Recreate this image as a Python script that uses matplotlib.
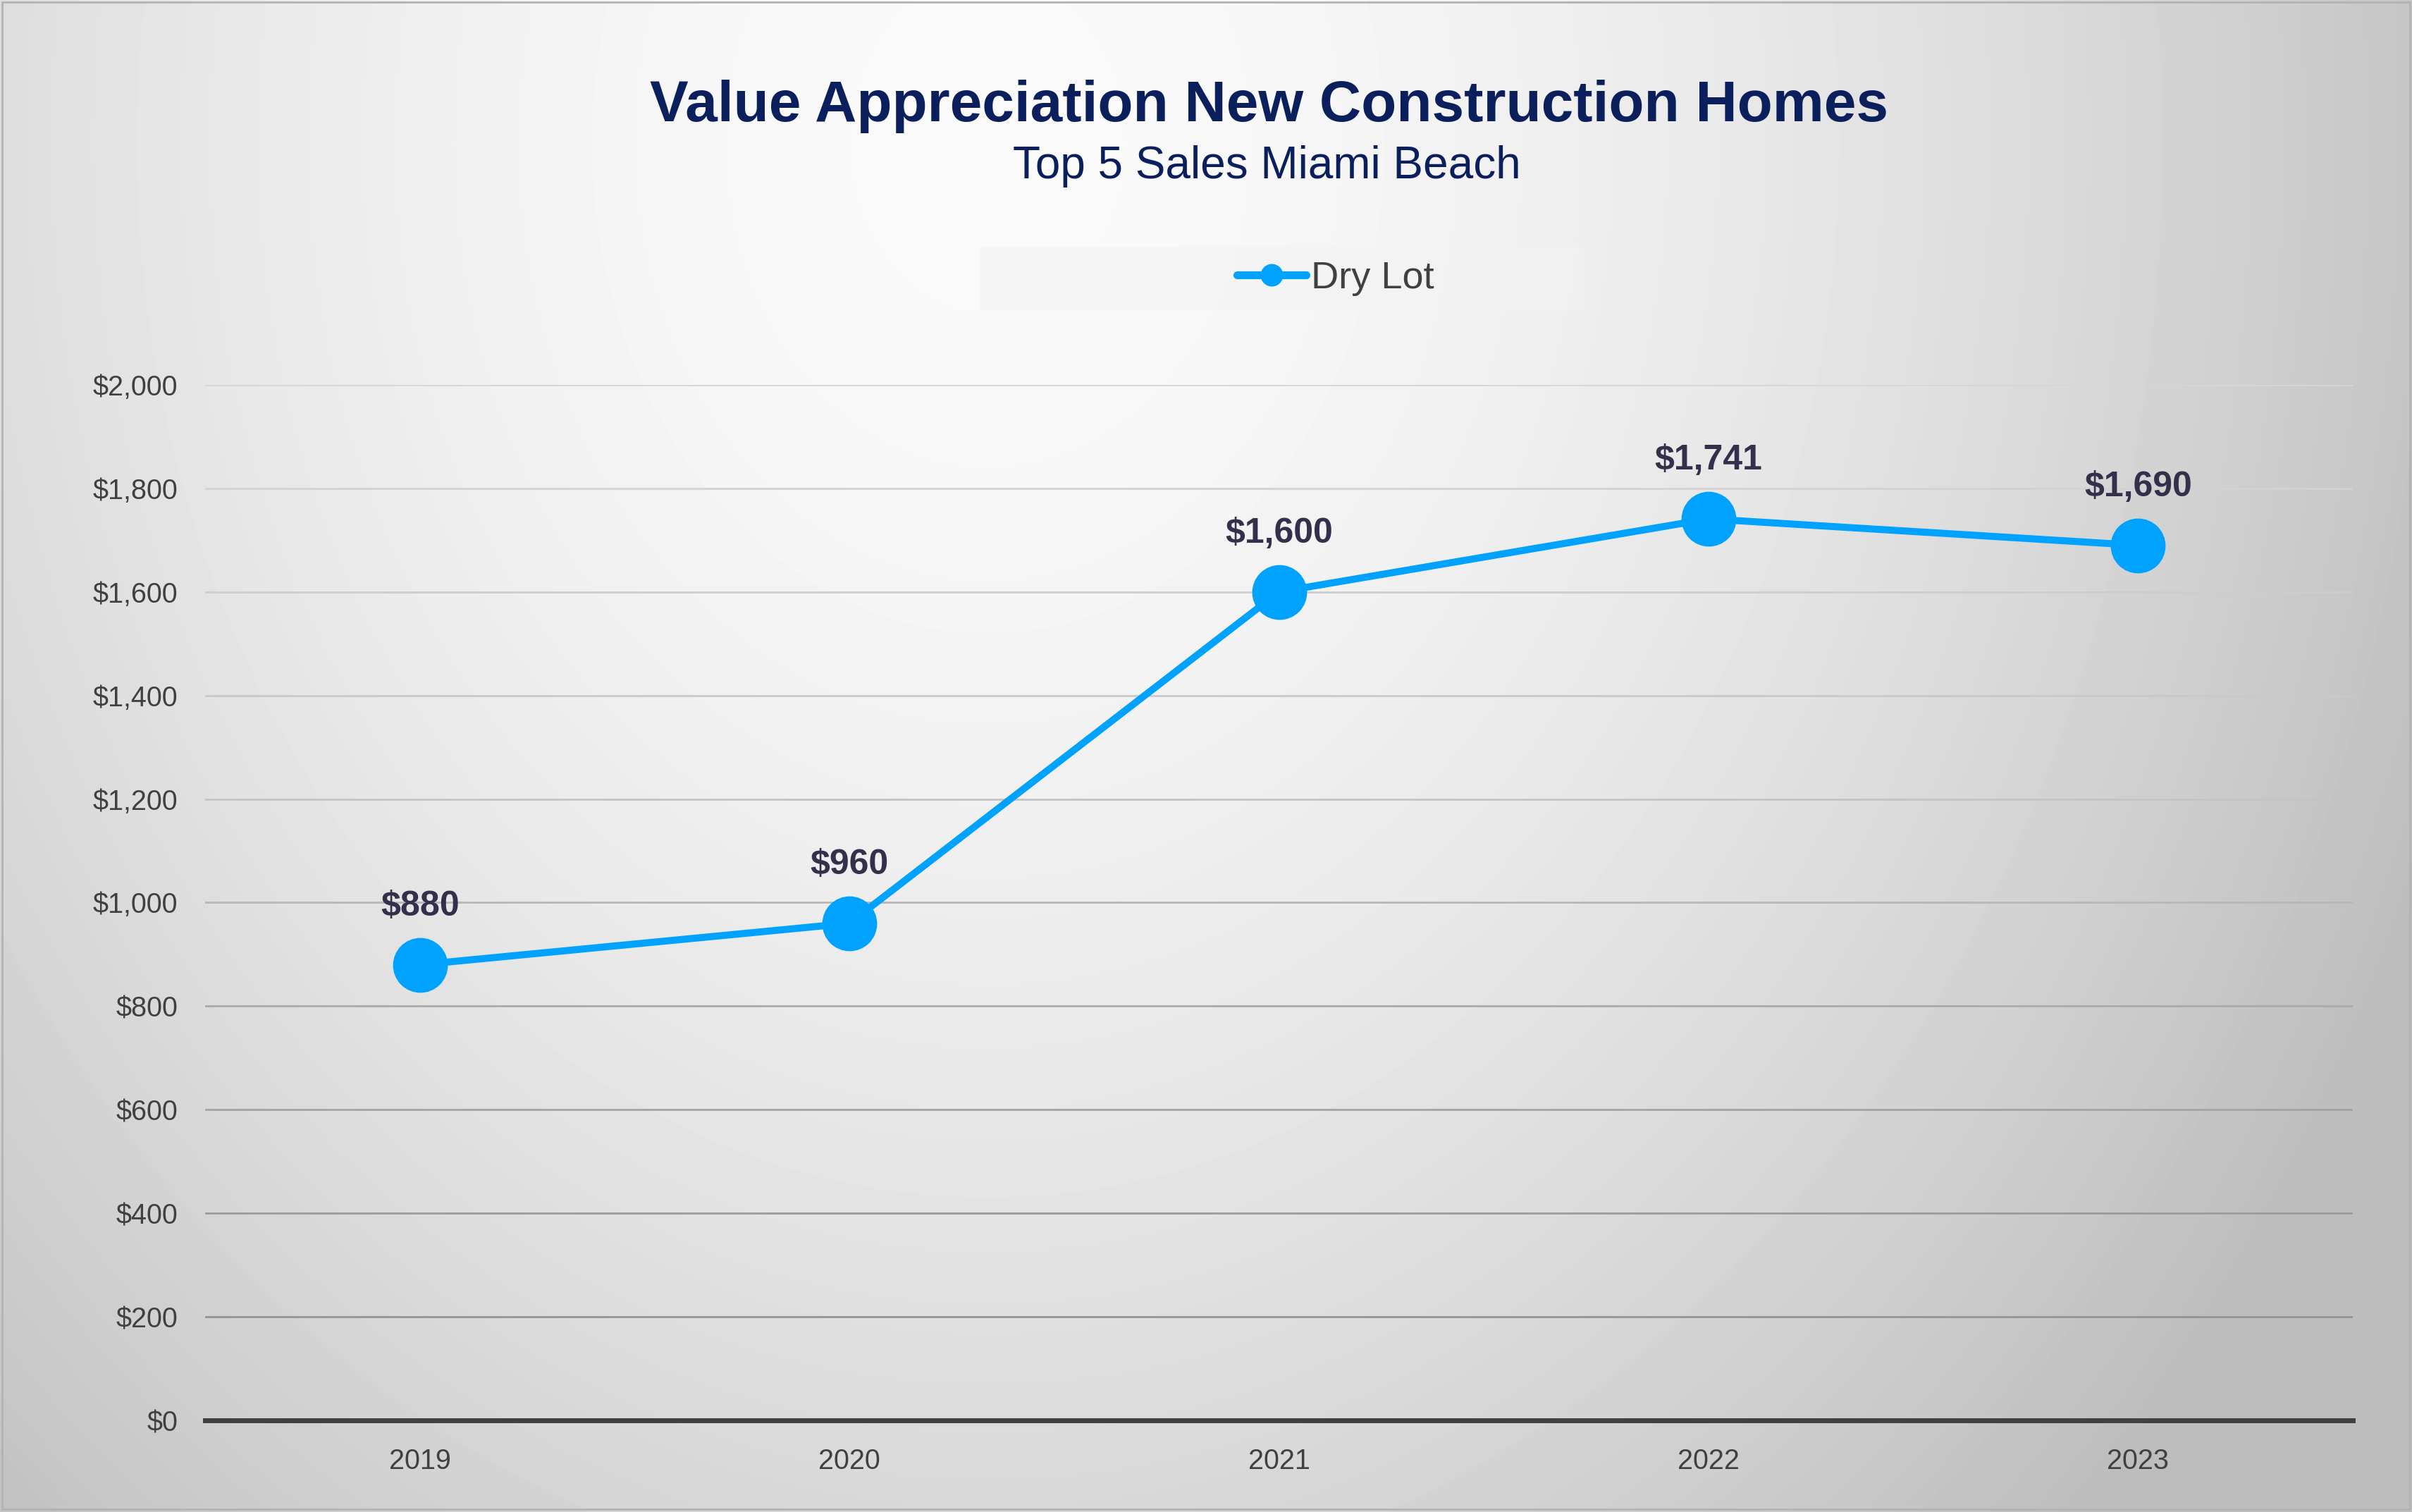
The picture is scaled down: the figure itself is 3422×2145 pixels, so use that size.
import numpy as np
import matplotlib
matplotlib.use('Agg')
import matplotlib.pyplot as plt
from matplotlib.lines import Line2D
from matplotlib.patches import Rectangle
from matplotlib.ticker import FuncFormatter

# ---- data ----
years = ['2019', '2020', '2021', '2022', '2023']
dry_lot = [880, 960, 1600, 1741, 1690]
series_name = 'Dry Lot'
y_ticks = [0, 200, 400, 600, 800, 1000, 1200, 1400, 1600, 1800, 2000]
title = 'Value Appreciation New Construction Homes'
subtitle = 'Top 5 Sales Miami Beach'

plt.rcParams['font.family'] = ['Liberation Sans', 'DejaVu Sans']

W, H = 3423, 2145
fig = plt.figure(figsize=(W / 100, H / 100), dpi=100)

# ---- background gradient ----
bg = fig.add_axes([0, 0, 1, 1], zorder=-10)
yy, xx = np.mgrid[0:H:5, 0:W:5].astype(float)
cx, cy, a, b = 1400.0, 200.0, 2100.0, 2600.0
r = np.sqrt(((xx - cx) / a) ** 2 + ((yy - cy) / b) ** 2)
val = (250 - 56 * np.clip(r, 0, 1.05) ** 1.7) / 255.0
bg.imshow(val, cmap='gray', vmin=0, vmax=1, extent=[0, W, H, 0],
          aspect='auto', interpolation='bilinear')
bg.set_xlim(0, W)
bg.set_ylim(H, 0)
bg.axis('off')
bg.add_patch(Rectangle((3, 3), W - 7, H - 7, fill=False,
                       edgecolor='#b3b3b3', linewidth=2))
# faint legend box
bg.add_patch(Rectangle((1390, 350), 859, 90, facecolor='#f3f3f3',
                       edgecolor='none', alpha=0.6))

# ---- main axes ----
ax = fig.add_axes([0.0850, 0.0606, 0.8902, 0.6849])
ax.patch.set_alpha(0)
x = np.arange(len(years))
ax.set_xlim(-0.5, len(years) - 0.5)
ax.set_ylim(0, 2000)

for v in y_ticks[1:]:
    g = np.interp(v, [200, 800, 1200, 2000], [148, 170, 196, 214]) / 255.0
    ax.axhline(v, color=(g, g, g), lw=2, zorder=1)
ax.axhline(0, color='#404040', lw=5, zorder=3, clip_on=False)

ax.plot(x, dry_lot, color='#00a2ff', lw=7.2, marker='o', ms=55,
        solid_capstyle='round', zorder=5, clip_on=False)

for xi, v in zip(x, dry_lot):
    ax.annotate(f'${v:,}', (xi, v), xytext=(0, 50.4), textcoords='offset points',
                ha='center', va='baseline', fontsize=36, fontweight='bold',
                color='#34304b', zorder=6)

ax.set_yticks(y_ticks)
ax.yaxis.set_major_formatter(FuncFormatter(lambda v, p: f'${v:,.0f}'))
ax.set_xticks(x)
ax.set_xticklabels(years)
ax.tick_params(length=0, labelsize=28.5, colors='#404040', pad=28)
for s in ax.spines.values():
    s.set_visible(False)

# ---- legend ----
handle = Line2D([], [], color='#00a2ff', lw=8, marker='o', ms=22,
                solid_capstyle='round')
fig.legend([handle], [series_name], loc='center', bbox_to_anchor=(0.5535, 0.8159),
           frameon=False, fontsize=39, handlelength=1.8, handletextpad=0.13,
           labelcolor='#404040')

# ---- titles ----
fig.text(0.526, 1 - 172 / 2145, title, ha='center', va='baseline',
         fontsize=59, fontweight='bold', color='#0a1f5c')
fig.text(0.525, 0.882, subtitle, ha='center', va='baseline',
         fontsize=46, color='#0a1f5c')

fig.savefig('out.png', dpi=100)
